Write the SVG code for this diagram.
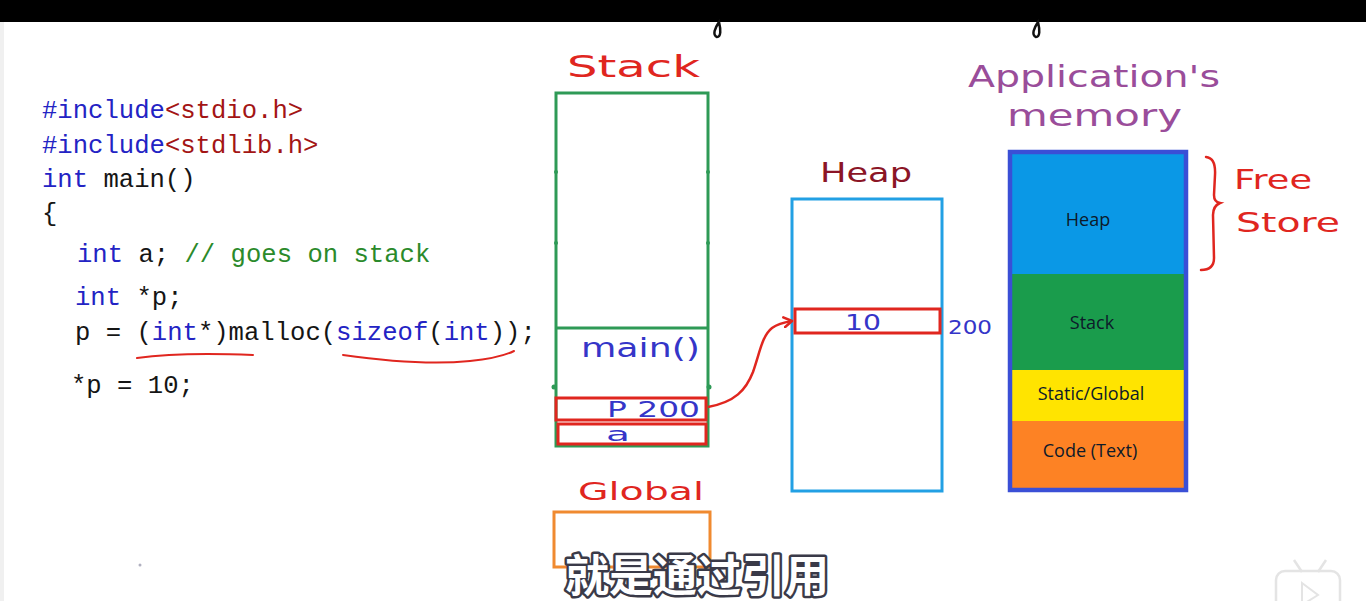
<svg xmlns="http://www.w3.org/2000/svg" width="1366" height="601" viewBox="0 0 1366 601">
<style>
.code{font-family:"Liberation Mono","DejaVu Sans Mono",monospace;font-size:25.6px;fill:#151515}
.kw{fill:#2323c4}
.str{fill:#a31515}
.cm{fill:#2b8a2b}
.hand{font-family:"DejaVu Sans","Liberation Sans",sans-serif}
.red{fill:#e0261f}
.blue{fill:#3535c8}
.lbl{font-family:"Open Sans","Liberation Sans",sans-serif;font-size:18px;fill:#0d1a2a;text-anchor:middle}
.redbox{fill:none;stroke:#e0261f;stroke-width:3}
</style>
<defs>
<marker id="arr" markerWidth="12" markerHeight="12" refX="9" refY="6" orient="auto" markerUnits="userSpaceOnUse">
<path d="M1,1 L9,6 L1,11" fill="none" stroke="#e0261f" stroke-width="2.5" stroke-linecap="round" stroke-linejoin="round"/>
</marker>
</defs>
<rect x="0" y="0" width="1366" height="601" fill="#ffffff"/>
<rect x="0" y="0" width="4" height="601" fill="#f0f0f0"/>
<rect x="0" y="0" width="1366" height="22" fill="#000000"/>
<g id="marks" fill="none" stroke="#111" stroke-width="2.5">
<path d="M719,22 C715,28 712,35 717,37 C721,37 721,30 719,22 Z"/>
<path d="M1038,22 C1034,28 1031,35 1036,37 C1040,37 1040,30 1038,22 Z"/>
</g>
<g id="code">
<text class="code" x="42" y="118"><tspan class="kw">#include</tspan><tspan class="str">&lt;stdio.h&gt;</tspan></text>
<text class="code" x="42" y="153"><tspan class="kw">#include</tspan><tspan class="str">&lt;stdlib.h&gt;</tspan></text>
<text class="code" x="42" y="187"><tspan class="kw">int</tspan> main()</text>
<text class="code" x="42" y="221">{</text>
<text class="code" x="77" y="262"><tspan class="kw">int</tspan> a; <tspan class="cm">// goes on stack</tspan></text>
<text class="code" x="75" y="305"><tspan class="kw">int</tspan> *p;</text>
<text class="code" x="75" y="340">p = (<tspan class="kw">int</tspan>*)malloc(<tspan class="kw">sizeof</tspan>(<tspan class="kw">int</tspan>));</text>
<text class="code" x="71" y="393">*p = 10;</text>
<g fill="none" stroke="#e0261f" stroke-width="2" stroke-linecap="round">
<path d="M137,358 Q180,352 253,355"/>
<path d="M343,355 Q420,366 470,361 Q500,358 514,351"/>
</g>
</g>
<g id="stack">
<text class="hand red" x="567" y="77" font-size="30" textLength="133" lengthAdjust="spacingAndGlyphs">Stack</text>
<rect x="556" y="93" width="152" height="353" fill="none" stroke="#2e9a56" stroke-width="3"/>
<line x1="556" y1="328" x2="708" y2="328" stroke="#2e9a56" stroke-width="3"/>
<g fill="#2e9a56">
<circle cx="556" cy="172" r="2"/><circle cx="708" cy="172" r="2"/>
<circle cx="556" cy="243" r="2"/><circle cx="708" cy="243" r="2"/>
<circle cx="554" cy="387" r="2.5"/><circle cx="709" cy="387" r="2.5"/>
</g>
<text class="hand blue" x="581" y="357" font-size="26" textLength="119" lengthAdjust="spacingAndGlyphs">main()</text>
</g>
<g id="var-p">
<rect class="redbox" x="556" y="398" width="150" height="22"/>
<text class="hand blue" x="607" y="417" font-size="21" textLength="93" lengthAdjust="spacingAndGlyphs">P 200</text>
</g>
<g id="var-a">
<rect class="redbox" x="558" y="424" width="148" height="20"/>
<text class="hand blue" x="606" y="441" font-size="19" textLength="24" lengthAdjust="spacingAndGlyphs">a</text>
</g>
<g id="global">
<text class="hand red" x="578" y="500" font-size="24" textLength="126" lengthAdjust="spacingAndGlyphs">Global</text>
<rect x="554" y="512" width="156" height="55" fill="none" stroke="#f08a30" stroke-width="3"/>
</g>
<g id="heap">
<text class="hand" fill="#8b1526" x="820" y="182" font-size="27" textLength="92" lengthAdjust="spacingAndGlyphs">Heap</text>
<rect x="792" y="199" width="150" height="292" fill="none" stroke="#22a0e4" stroke-width="3"/>
</g>
<g id="heap-cell">
<rect class="redbox" x="795" y="309" width="145" height="24"/>
<text class="hand blue" x="863" y="330" font-size="22" text-anchor="middle" textLength="36" lengthAdjust="spacingAndGlyphs">10</text>
<text class="hand blue" x="948" y="334" font-size="20" textLength="44" lengthAdjust="spacingAndGlyphs">200</text>
</g>
<g id="connectors">
<path d="M708,407 C735,402 746,390 753,372 C760,352 762,336 772,328 C779,323 786,322 792,321" fill="none" stroke="#e0261f" stroke-width="2.5" marker-end="url(#arr)"/>
</g>
<g id="app-memory">
<text class="hand" fill="#9a4d9a" x="968" y="87" font-size="30" textLength="252" lengthAdjust="spacingAndGlyphs">Application's</text>
<text class="hand" fill="#9a4d9a" x="1007" y="126" font-size="30" textLength="175" lengthAdjust="spacingAndGlyphs">memory</text>
<rect x="1012" y="153" width="172" height="121" fill="#0a98e6"/>
<rect x="1012" y="274" width="172" height="96" fill="#1a9c4c"/>
<rect x="1012" y="370" width="172" height="51" fill="#ffe400"/>
<rect x="1012" y="421" width="172" height="67" fill="#fd8224"/>
<rect x="1010" y="152" width="176" height="338" fill="none" stroke="#3a4fd6" stroke-width="4.5"/>
<text class="lbl" x="1088" y="226">Heap</text>
<text class="lbl" x="1092" y="329">Stack</text>
<text class="lbl" x="1091" y="400">Static/Global</text>
<text class="lbl" x="1090" y="457">Code (Text)</text>
</g>
<g id="free-store">
<path d="M1206,157 Q1216,158 1215,175 L1214,195 Q1214,202 1220,203 Q1213,206 1213,215 L1214,258 Q1214,270 1201,270" fill="none" stroke="#e0261f" stroke-width="2.5" stroke-linecap="round"/>
<text class="hand red" x="1234" y="189" font-size="27" textLength="78" lengthAdjust="spacingAndGlyphs">Free</text>
<text class="hand red" x="1236" y="232" font-size="27" textLength="104" lengthAdjust="spacingAndGlyphs">Store</text>
</g>
<circle cx="140" cy="565" r="1.5" fill="#b0b0c0"/>
<g id="logo" fill="none" stroke="#e4e4e4" stroke-width="2.5">
<path d="M1294,560 L1302,572 M1326,560 L1318,572"/>
<rect x="1276" y="571" width="64" height="44" rx="9"/>
<path d="M1302,583 L1318,595 L1302,605 Z" stroke-width="2"/>
</g>
<g id="subtitle">
<text x="697" y="592" font-family="'Noto Sans CJK SC','Noto Sans',sans-serif" font-size="44" font-weight="700" text-anchor="middle" fill="#ffffff" stroke="#3a3a48" stroke-width="5" paint-order="stroke" stroke-linejoin="round">就是通过引用</text>
</g>
</svg>
